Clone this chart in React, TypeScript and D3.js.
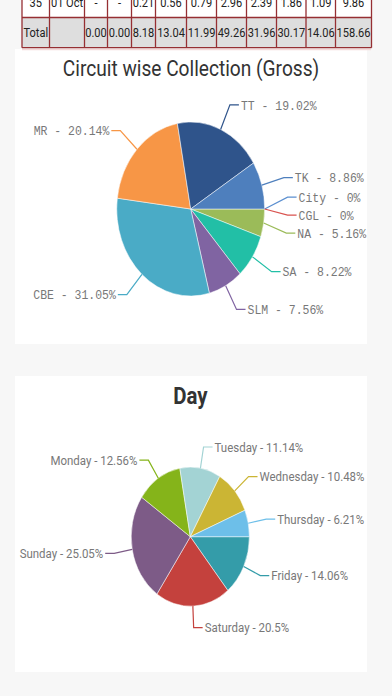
import { useEffect } from "react";
import * as d3 from "d3";

// table rows (last visible row + totals)
const rowDay = ["35", "01 Oct", "-", "-", "0.21", "0.56", "0.79", "2.96", "2.39", "1.86", "1.09", "9.86"];
const rowTotal = ["Total", "", "0.00", "0.00", "8.18", "13.04", "11.99", "49.26", "31.96", "30.17", "14.06", "158.66"];

// circuit chart (clockwise from 3 o'clock)
const circuitNames = ["City", "CGL", "NA", "SA", "SLM", "CBE", "MR", "TT", "TK"];
const circuitShare = [0, 0, 5.16, 8.22, 7.56, 31.05, 20.14, 19.02, 8.86];
const circuitColors = ["#5b8fd0", "#d9534f", "#9bbb59", "#22bfa6", "#8064a2", "#4aabc6", "#f79646", "#2f548b", "#4e7fbd"];

// day chart (clockwise from 3 o'clock)
const dayNames = ["Friday", "Saturday", "Sunday", "Monday", "Tuesday", "Wednesday", "Thursday"];
const dayShare = [14.06, 20.5, 25.05, 12.56, 11.14, 10.48, 6.21];
const dayColors = ["#349ca9", "#c4413d", "#7d5b87", "#85b41a", "#a3d3d4", "#cbb534", "#6dbfe9"];

const SX = 0.85; // the screenshot is squeezed horizontally

const colWidths = [27.5, 35, 23, 24, 24, 31, 30, 30, 30, 29.5, 29.5, 36];

type Slice = { name: string; value: number; color: string };

function zip(names: string[], values: number[], colors: string[]): Slice[] {
    return names.map((n, i) => ({ name: n, value: values[i], color: colors[i] }));
}

// push labels apart on one side, keeping each cluster centred on its natural spot
function spread(labels: { y0: number; y: number }[], gap: number) {
    const sorted = [...labels].sort((a, b) => a.y0 - b.y0);
    type Cl = { items: typeof sorted; top: number };
    const clusters: Cl[] = [];
    for (const l of sorted) {
        let cur: Cl = { items: [l], top: l.y0 };
        while (clusters.length) {
            const prev = clusters[clusters.length - 1];
            if (prev.top + prev.items.length * gap > cur.top) {
                clusters.pop();
                const items = [...prev.items, ...cur.items];
                const mean = d3.mean(items, (d) => d.y0)!;
                cur = { items, top: mean - ((items.length - 1) * gap) / 2 };
            } else break;
        }
        clusters.push(cur);
    }
    for (const c of clusters) c.items.forEach((it, i) => (it.y = c.top + i * gap));
}

type PieProps = {
    data: Slice[];
    cx: number;
    cy: number;
    r: number;
    font: string;
    fontSize: number;
    gap: number;
};

function Pie({ data, cx, cy, r, font, fontSize, gap }: PieProps) {
    const pie = d3
        .pie<Slice>()
        .value((d) => d.value)
        .sort(null)
        .startAngle(Math.PI / 2)
        .endAngle(Math.PI / 2 + Math.PI * 2);
    const arcs = pie(data);
    const arcGen = d3.arc<d3.PieArcDatum<Slice>>().innerRadius(0).outerRadius(r);

    const R = r * 1.31;
    const labels = arcs.map((a) => {
        const mid = (a.startAngle + a.endAngle) / 2;
        const s = Math.sin(mid);
        const c = Math.cos(mid);
        const right = s >= -1e-6;
        const ey = cy - R * c;
        return {
            d: a.data,
            right,
            px: cx + r * SX * s,
            py: cy - r * c,
            ex: cx + R * SX * s,
            y0: ey,
            y: ey,
        };
    });
    spread(labels.filter((l) => l.right), gap);
    spread(labels.filter((l) => !l.right), gap);

    return (
        <g>
            <g transform={`translate(${cx},${cy}) scale(${SX},1)`}>
                {arcs.map((a) => (
                    <path
                        key={a.data.name}
                        d={arcGen(a) || ""}
                        fill={a.data.color}
                        stroke="#fff"
                        strokeWidth={0.5}
                        vectorEffect="non-scaling-stroke"
                    />
                ))}
            </g>
            {labels.map((l) => {
                const dir = l.right ? 1 : -1;
                const hx = l.ex + dir * 9;
                return (
                    <g key={l.d.name}>
                        <polyline
                            points={`${l.px},${l.py} ${l.ex},${l.y} ${hx},${l.y}`}
                            fill="none"
                            stroke={l.d.color}
                            strokeWidth={1.2}
                        />
                        <text
                            transform={`translate(${hx + dir * 2},${l.y}) scale(${SX},1)`}
                            dy="0.35em"
                            textAnchor={l.right ? "start" : "end"}
                            fontFamily={font}
                            fontSize={fontSize}
                            fill="#787878"
                        >
                            {`${l.d.name} - ${l.d.value}%`}
                        </text>
                    </g>
                );
            })}
        </g>
    );
}

function Table() {
    const x0 = 22;
    const edges = [x0, ...d3.cumsum(colWidths).map((w) => x0 + w)];
    const rows = [
        { cells: rowDay, top: -13, h: 30.5, fill: "#ffffff" },
        { cells: rowTotal, top: 17.5, h: 30.2, fill: "#dedede" },
    ];
    const border = "#962f33";
    return (
        <g>
            {rows.map((row, ri) => (
                <g key={ri}>
                    <rect x={x0} y={row.top} width={edges[edges.length - 1] - x0} height={row.h} fill={row.fill} />
                    {row.cells.map((c, i) => (
                        <text
                            key={i}
                            transform={`translate(${(edges[i] + edges[i + 1]) / 2},${row.top + row.h / 2}) scale(${SX},1)`}
                            dy="0.36em"
                            textAnchor="middle"
                            fontFamily="Roboto"
                            fontSize={13}
                            fill="#222"
                        >
                            {c}
                        </text>
                    ))}
                </g>
            ))}
            {edges.map((e, i) => (
                <line key={i} x1={e} x2={e} y1={-13} y2={47.7} stroke={border} strokeWidth={1.3} />
            ))}
            {[17.5, 47.7].map((y) => (
                <line key={y} x1={x0} x2={edges[edges.length - 1]} y1={y} y2={y} stroke={border} strokeWidth={1.3} />
            ))}
        </g>
    );
}

export default function App() {
    useEffect(() => {
        document.body.style.margin = "0";
    }, []);

    const circuit = zip(circuitNames, circuitShare, circuitColors);
    const days = zip(dayNames, dayShare, dayColors);

    return (
        <div style={{ position: "absolute", left: 0, top: 0 }}>
            <svg width={392} height={696} style={{ display: "block" }}>
                <rect width={392} height={696} fill="#f7f7f7" />
                <rect x={15} y={49} width={352} height={295} fill="#ffffff" />
                <rect x={15} y={376} width={352} height={296} fill="#ffffff" />
                <line x1={22} x2={371} y1={49.5} y2={49.5} stroke="#f4d9d9" strokeWidth={1.5} />
                <Table />

                <text
                    transform={`translate(191,76) scale(${SX},1)`}
                    textAnchor="middle"
                    fontFamily="Roboto"
                    fontSize={22.5}
                    fill="#333"
                >
                    Circuit wise Collection (Gross)
                </text>
                <Pie data={circuit} cx={190.7} cy={209} r={87} font="Liberation Mono" fontSize={13.5} gap={18} />

                <text
                    transform={`translate(190.5,404) scale(${SX},1)`}
                    textAnchor="middle"
                    fontFamily="Roboto"
                    fontWeight="bold"
                    fontSize={24}
                    fill="#333"
                >
                    Day
                </text>
                <Pie data={days} cx={190.3} cy={536.7} r={69.5} font="Roboto" fontSize={13.5} gap={18} />
            </svg>
        </div>
    );
}
